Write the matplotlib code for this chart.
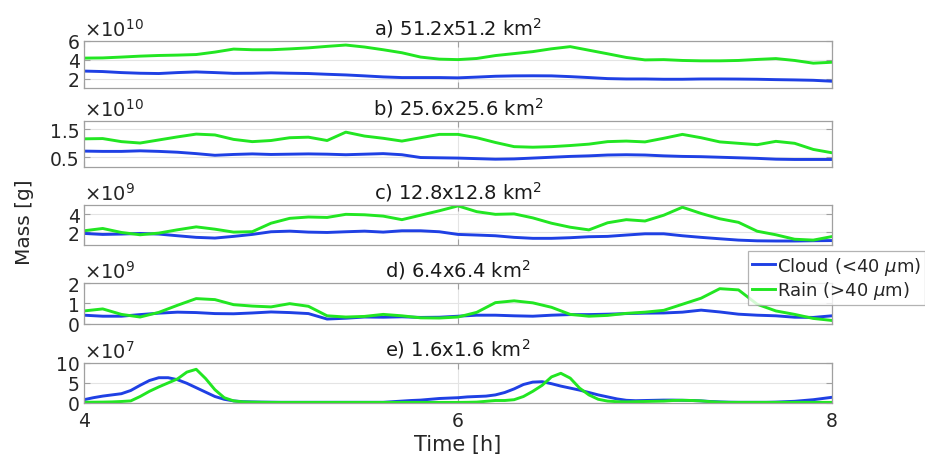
import numpy as np
import matplotlib
matplotlib.use("Agg")
import matplotlib.pyplot as plt
from matplotlib.ticker import FuncFormatter

# time axis [h]
t10 = np.linspace(4, 8, 41)   # 0.1 h spacing, panels a-d
t05 = np.linspace(4, 8, 81)   # 0.05 h spacing, panel e

# values in units of the panel exponent (x10^exp g)
cloud_a = [2.80, 2.75, 2.64, 2.57, 2.54, 2.64, 2.71, 2.64, 2.56, 2.57,
           2.61, 2.57, 2.54, 2.46, 2.39, 2.29, 2.18, 2.11, 2.11, 2.11,
           2.08, 2.16, 2.25, 2.29, 2.30, 2.29, 2.21, 2.11, 2.00, 1.96,
           1.96, 1.93, 1.93, 1.96, 1.96, 1.95, 1.93, 1.89, 1.86, 1.82,
           1.72]
rain_a = [4.18, 4.20, 4.29, 4.39, 4.46, 4.50, 4.56, 4.82, 5.14, 5.07,
          5.07, 5.16, 5.27, 5.43, 5.57, 5.36, 5.07, 4.75, 4.29, 4.07,
          4.02, 4.14, 4.45, 4.66, 4.87, 5.17, 5.40, 5.02, 4.64, 4.25,
          3.99, 4.02, 3.93, 3.89, 3.89, 3.93, 4.04, 4.13, 3.93, 3.64,
          3.74]

cloud_b = [0.72, 0.71, 0.71, 0.73, 0.71, 0.68, 0.63, 0.57, 0.60, 0.62,
           0.60, 0.61, 0.62, 0.61, 0.59, 0.61, 0.63, 0.59, 0.49, 0.48,
           0.47, 0.45, 0.43, 0.44, 0.47, 0.50, 0.53, 0.55, 0.58, 0.59,
           0.58, 0.55, 0.53, 0.52, 0.50, 0.48, 0.46, 0.43, 0.42, 0.42,
           0.42]
rain_b = [1.16, 1.17, 1.06, 1.01, 1.12, 1.23, 1.33, 1.30, 1.14, 1.06,
          1.10, 1.20, 1.22, 1.10, 1.40, 1.26, 1.18, 1.08, 1.20, 1.32,
          1.32, 1.20, 1.03, 0.88, 0.86, 0.88, 0.92, 0.97, 1.06, 1.08,
          1.05, 1.18, 1.32, 1.20, 1.05, 1.00, 0.95, 1.07, 1.00, 0.78,
          0.66]

cloud_c = [1.85, 1.74, 1.78, 1.85, 1.78, 1.59, 1.41, 1.33, 1.52, 1.74,
           2.04, 2.11, 2.00, 1.96, 2.04, 2.11, 2.00, 2.15, 2.15, 2.04,
           1.74, 1.67, 1.59, 1.41, 1.30, 1.30, 1.37, 1.48, 1.52, 1.67,
           1.81, 1.81, 1.59, 1.41, 1.25, 1.10, 1.02, 1.00, 1.00, 1.03,
           1.05]
rain_c = [2.15, 2.41, 1.96, 1.70, 1.89, 2.26, 2.59, 2.33, 2.00, 2.05,
          3.00, 3.55, 3.70, 3.65, 4.00, 3.95, 3.80, 3.40, 3.90, 4.40,
          4.95, 4.30, 4.00, 4.05, 3.60, 3.00, 2.55, 2.25, 3.05, 3.40,
          3.25, 3.90, 4.80, 4.10, 3.50, 3.10, 2.10, 1.70, 1.20, 1.10,
          1.50]

cloud_d = [0.41, 0.36, 0.36, 0.44, 0.51, 0.56, 0.54, 0.49, 0.48, 0.52,
           0.57, 0.54, 0.49, 0.22, 0.26, 0.32, 0.31, 0.33, 0.30, 0.31,
           0.36, 0.41, 0.41, 0.38, 0.36, 0.41, 0.44, 0.44, 0.46, 0.49,
           0.51, 0.52, 0.56, 0.66, 0.57, 0.46, 0.41, 0.38, 0.31, 0.30,
           0.38]
rain_d = [0.62, 0.72, 0.45, 0.32, 0.55, 0.90, 1.23, 1.18, 0.93, 0.86,
          0.82, 0.98, 0.85, 0.38, 0.32, 0.35, 0.45, 0.38, 0.28, 0.27,
          0.32, 0.55, 1.03, 1.12, 1.02, 0.80, 0.45, 0.36, 0.40, 0.50,
          0.56, 0.65, 0.95, 1.25, 1.72, 1.66, 0.95, 0.62, 0.45, 0.25,
          0.15]

cloud_e = [0.70, 1.20, 1.60, 1.90, 2.20, 3.00, 4.30, 5.50, 6.20, 6.20,
           5.70, 4.80, 3.70, 2.60, 1.50, 0.80, 0.40, 0.20, 0.15, 0.10,
           0.08, 0.05, 0.05, 0.05, 0.05, 0.05, 0.05, 0.05, 0.05, 0.05,
           0.05, 0.05, 0.05, 0.20, 0.35, 0.50, 0.60, 0.80, 1.00, 1.10,
           1.20, 1.40, 1.50, 1.60, 1.90, 2.50, 3.40, 4.50, 5.10, 5.20,
           4.70, 4.10, 3.60, 3.10, 2.50, 1.90, 1.40, 0.90, 0.55, 0.45,
           0.50, 0.55, 0.60, 0.60, 0.55, 0.50, 0.40, 0.25, 0.15, 0.08,
           0.05, 0.05, 0.05, 0.05, 0.10, 0.20, 0.30, 0.50, 0.70, 1.00,
           1.30]
rain_e = [0.05, 0.08, 0.10, 0.15, 0.25, 0.40, 1.50, 2.80, 3.90, 4.90,
          5.90, 7.60, 8.30, 6.00, 3.20, 1.20, 0.40, 0.15, 0.08, 0.05,
          0.02, 0.02, 0.02, 0.02, 0.02, 0.02, 0.02, 0.02, 0.02, 0.02,
          0.02, 0.02, 0.02, 0.02, 0.02, 0.02, 0.02, 0.02, 0.02, 0.02,
          0.02, 0.05, 0.10, 0.30, 0.50, 0.50, 0.70, 1.50, 2.80, 4.30,
          6.40, 7.30, 6.10, 3.60, 1.90, 0.80, 0.35, 0.20, 0.15, 0.20,
          0.25, 0.30, 0.35, 0.50, 0.55, 0.50, 0.40, 0.20, 0.08, 0.03,
          0.03, 0.03, 0.03, 0.03, 0.03, 0.03, 0.03, 0.03, 0.03, 0.03,
          0.03]

titles = ['a) 51.2x51.2 km$^2$', 'b) 25.6x25.6 km$^2$', 'c) 12.8x12.8 km$^2$',
          'd) 6.4x6.4 km$^2$', 'e) 1.6x1.6 km$^2$']
exponents = [10, 10, 9, 9, 7]
times = [t10, t10, t10, t10, t05]
clouds = [cloud_a, cloud_b, cloud_c, cloud_d, cloud_e]
rains = [rain_a, rain_b, rain_c, rain_d, rain_e]
ylims = [(1, 6), (0.15, 1.8), (0.55, 5.05), (0, 2), (0, 10)]
yticks = [[2, 4, 6], [0.5, 1.5], [2, 4], [0, 1, 2], [0, 5, 10]]
xticks = [4, 6, 8]

# axes boxes in pixels (top, bottom) for a 925x460 figure
W, H = 925., 460.
left, right = 84, 832
boxes = [(42, 89), (122, 168), (206, 246), (284, 324.5), (363.5, 403.5)]

blue = '#1f40e4'
green = '#22e622'
frame = '#a0a0a0'
txt = '#262626'

fig = plt.figure(figsize=(9.25, 4.6), dpi=100)
plt.rcParams['font.family'] = 'DejaVu Sans'

axes = []
for i in range(5):
    top, bot = boxes[i]
    ax = fig.add_axes([left/W, 1-bot/H, (right-left)/W, (bot-top)/H])
    axes.append(ax)
    l1, = ax.plot(times[i], clouds[i], color=blue, lw=2.1, label='Cloud (<40 $\\mu$m)')
    l2, = ax.plot(times[i], rains[i], color=green, lw=2.1, label='Rain (>40 $\\mu$m)')
    ax.set_xlim(4, 8)
    ax.set_ylim(*ylims[i])
    ax.set_xticks(xticks)
    ax.set_yticks(yticks[i])
    ax.yaxis.set_major_formatter(FuncFormatter(lambda v, p: '%g' % v))
    ax.grid(True, color='#e4e4e4', lw=0.8)
    ax.set_axisbelow(True)
    for s in ax.spines.values():
        s.set_color(frame)
        s.set_linewidth(0.9)
    ax.tick_params(direction='in', length=4, width=0.8, color=frame,
                   top=True, right=True, labelsize=13.5, labelcolor=txt, pad=3)
    ax.tick_params(axis='x', pad=6)
    if i < 4:
        ax.tick_params(labelbottom=False)
    ax.set_title(titles[i], fontsize=14, color='#1a1a1a', pad=5)
    ax.text(0.0, 1.02, '$\\times10^{%d}$' % exponents[i], transform=ax.transAxes,
            ha='left', va='bottom', fontsize=14, color=txt)

axes[-1].set_xlabel('Time [h]', fontsize=15, color=txt, labelpad=3)
fig.text(0.027, 0.516, 'Mass [g]', rotation=90, ha='center', va='center',
         fontsize=14.5, color=txt)

leg = fig.legend([l1, l2], [l1.get_label(), l2.get_label()],
                 loc='upper left', bbox_to_anchor=(748/W, 1-252/H),
                 fontsize=13, frameon=True, fancybox=False, borderpad=0.2,
                 labelspacing=0.15, handlelength=1.3, handletextpad=0.1,
                 borderaxespad=0)
leg.get_frame().set_edgecolor(frame)
leg.get_frame().set_linewidth(0.9)
for tx in leg.get_texts():
    tx.set_color(txt)

plt.savefig('out.png', dpi=100)
